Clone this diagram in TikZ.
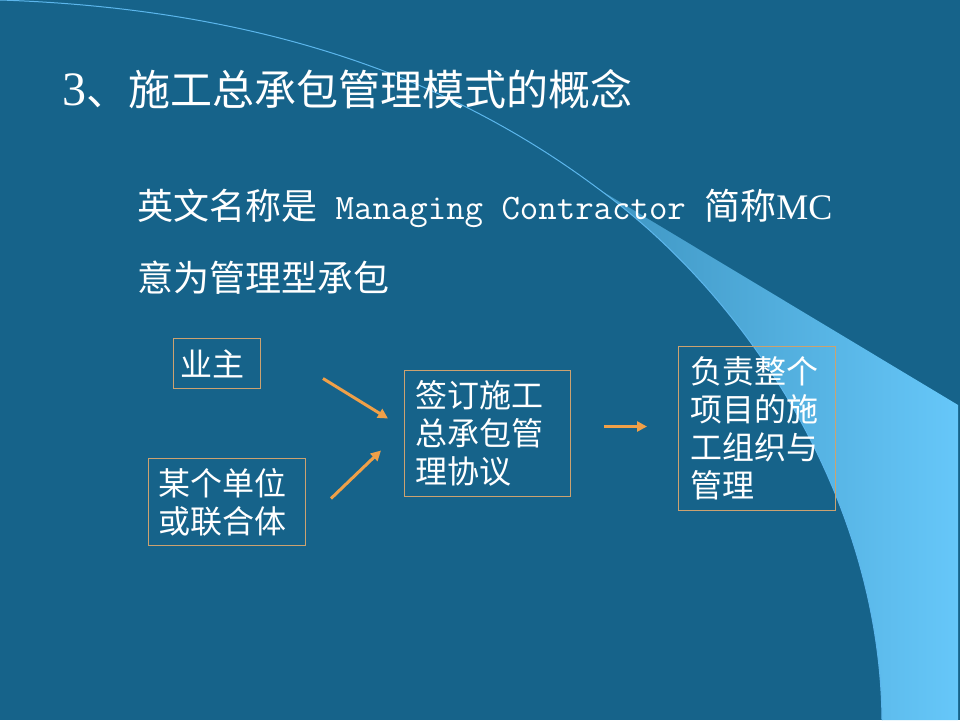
\documentclass[tikz,border=0pt]{standalone}
\usepackage{fontspec}
\setmainfont{Liberation Serif}
\newfontfamily\cjk{Noto Sans CJK SC}
\usetikzlibrary{arrows.meta, positioning}
\definecolor{MCbg}{RGB}{22,99,138}
\definecolor{MClight}{RGB}{102,199,249}
\definecolor{MCline}{RGB}{92,182,236}
\definecolor{MCorange}{RGB}{240,160,72}
\definecolor{MCedge}{RGB}{204,162,112}

\begin{document}
\begin{tikzpicture}[x=1pt, y=-1pt,
    mcbox/.style={draw=MCedge, line width=1pt, text=white, align=left, anchor=north west,
      font=\cjk\fontsize{32}{38}\selectfont, inner ysep=0pt},
    mcarrow/.style={draw=MCorange, line width=3pt, -{Triangle[length=10pt,width=10pt]}},
    mctext/.style={anchor=west, inner sep=0pt, text=white}]
  \useasboundingbox (0,0) rectangle (960,720);
  \fill[MCbg] (0,0) rectangle (960,720);
  % light wedge and the thin arc
  \shade[left color=MClight!50!MCbg, middle color=MClight!90!MCbg, right color=MClight]
    (600,190) -- (958,405) -- (958,720) -- (882,720)
    .. controls (880,500) and (750,300) .. (600,190) -- cycle;
  \draw[MCline, line width=1pt] (0,0) .. controls (300,10) and (480,100) .. (600,190)
    .. controls (750,300) and (880,500) .. (882,720);
  % headings
  \node[mctext, font=\fontsize{42}{50}\selectfont] (title) at (62,89)
    {{\fontsize{48}{54}\selectfont 3}\cjk 、施工总承包管理模式的概念};
  \node[mctext, font=\fontsize{36}{42}\selectfont] (name) at (137,208)
    {{\cjk 英文名称是}{\ttfamily\fontsize{35.8}{42}\selectfont{} Managing Contractor }{\cjk 简称}MC};
  \node[mctext, font=\cjk\fontsize{36}{42}\selectfont] (mean) at (137,278) {意为管理型承包};
  % boxes
  \node[mcbox, text width=73pt, inner xsep=7pt, minimum height=50pt] (owner) at (173,338) {业主};
  \node[mcbox, text width=137pt, inner xsep=10pt, minimum height=87pt] (unit) at (148,458)
    {某个单位\\或联合体};
  \node[mcbox, text width=144pt, inner xsep=11pt, minimum height=126pt] (agree) at (404,370)
    {签订施工\\总承包管\\理协议};
  \node[mcbox, text width=133pt, inner xsep=12pt, minimum height=164pt] (duty) at (678,346)
    {负责整个\\项目的施\\工组织与\\管理};
  % arrows
  \draw[mcarrow] ([shift={(62,15)}]owner.east) -- ([shift={(-16,-15)}]agree.west);
  \draw[mcarrow] ([shift={(25,-3.5)}]unit.east) -- ([shift={(-23,17)}]agree.west);
  \draw[mcarrow] ([shift={(33,-7)}]agree.east) -- ([shift={(-31,-2)}]duty.west);
\end{tikzpicture}
\end{document}
